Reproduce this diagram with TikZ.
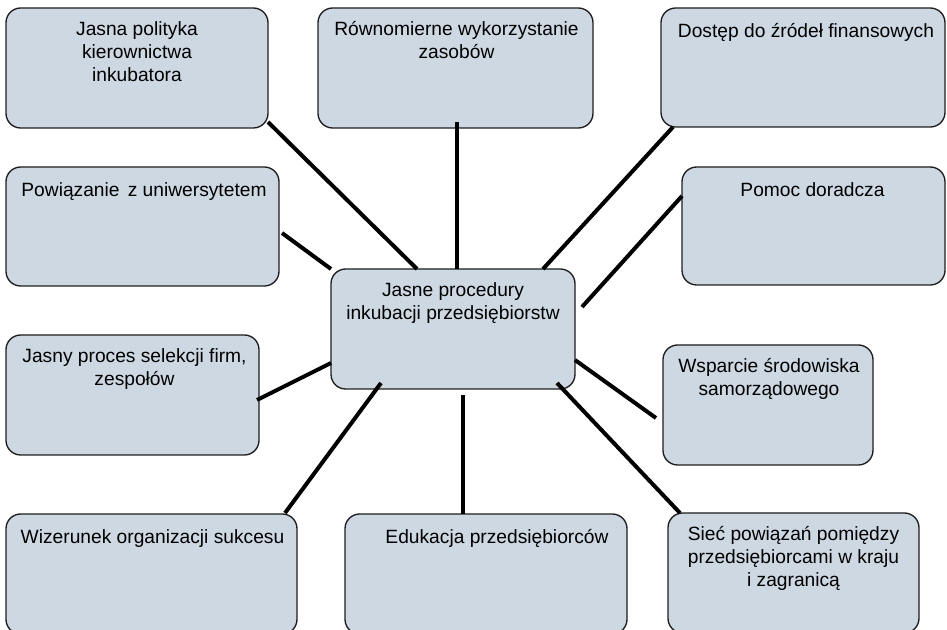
\documentclass[tikz,border=0pt]{standalone}
\usepackage{fontspec}
\setmainfont{Liberation Sans}
\usetikzlibrary{calc}
\definecolor{boxfill}{RGB}{206,216,227}
\definecolor{boxline}{RGB}{30,30,30}
\tikzset{
  box/.style={draw=boxline, line width=1pt, fill=boxfill, rounded corners=11pt,
    inner sep=0pt, outer sep=0pt, minimum height=90pt},
  lbl/.style={anchor=north, inner sep=0pt, align=center,
    font=\fontsize{14.4}{17}\selectfont,
    execute at begin node={\rule{0pt}{12pt}}},
  link/.style={line width=3pt, black}
}
\begin{document}
\begin{tikzpicture}[x=0.75pt,y=-0.75pt]
\useasboundingbox (0,0) rectangle (947,630);
\begin{scope}
\clip (0,0) rectangle (947,630);
% boxes (coordinates in pixels, y pointing down)
\node[box, minimum width=196.5pt]  (A) at (137,68) {};
\node[box, minimum width=206.25pt] (B) at (455.5,68) {};
\node[box, minimum width=213pt, minimum height=89.25pt] (C) at (803,67.5) {};
\node[box, minimum width=204.75pt, minimum height=89.25pt] (D) at (142.5,226.5) {};
\node[box, minimum width=197.25pt, minimum height=88.5pt] (E) at (813.5,226) {};
\node[box, minimum width=183pt]    (F) at (453,329) {};
\node[box, minimum width=189.75pt] (G) at (132.5,395) {};
\node[box, minimum width=157.5pt]  (H) at (768,405) {};
\node[box, minimum width=218.25pt] (I) at (151.5,574) {};
\node[box, minimum width=211.5pt]  (J) at (486,574) {};
\node[box, minimum width=188.25pt] (K) at (793.5,573) {};

% labels
\node[lbl] (At) at ($(A.north)+(0,13.5)$) {Jasna polityka\\kierownictwa\\inkubatora};
\node[lbl] (Bt) at ($(B.north)+(1,13.5)$) {Równomierne wykorzystanie\\zasobów};
\node[lbl] (Ct) at ($(C.north)+(3,13.5)$) {Dostęp do źródeł finansowych};
\node[lbl] (Dt) at ($(D.north)+(1.5,13.5)$) {Powiązanie\hspace{0.15em} z uniwersytetem};
\node[lbl] (Et) at ($(E.north)+(-1,13.5)$) {Pomoc doradcza};
\node[lbl] (Ft) at ($(F.north)+(0,13.5)$) {Jasne procedury\\inkubacji przedsiębiorstw};
\node[lbl] (Gt) at ($(G.north)+(2,13.5)$) {Jasny proces selekcji firm,\\zespołów};
\node[lbl] (Ht) at ($(H.north)+(1,13.5)$) {Wsparcie środowiska\\samorządowego};
\node[lbl] (It) at ($(I.north)+(1,13.5)$) {Wizerunek organizacji sukcesu};
\node[lbl] (Jt) at ($(J.north)+(11,13.5)$) {Edukacja przedsiębiorców};
\node[lbl] (Kt) at ($(K.north)+(0,13.5)$) {Sieć powiązań pomiędzy\\przedsiębiorcami w kraju\\i zagranicą};

% spokes to the central box
\draw[link] ($(A.south east)+(0,-6)$) -- ($(F.north west)+(86,0)$);
\draw[link] ($(B.south)+(1.5,-6)$) -- ($(F.north)+(4,0)$);
\draw[link] ($(C.south west)+(12,0)$) -- ($(F.north east)+(-32,0)$);
\draw[link] ($(D.east)+(3,6.5)$) -- (F.north west);
\draw[link] ($(E.west)+(0,-30)$) -- ($(F.east)+(7,-22)$);
\draw[link] ($(G.east)+(-2,5)$) -- ($(F.west)+(0,34)$);
\draw[link] ($(H.west)+(-7,13)$) -- ($(F.east)+(0,31)$);
\draw[link] ($(I.north east)+(-12,-1)$) -- ($(F.south west)+(50,-6)$);
\draw[link] ($(J.north)+(-23,0)$) -- ($(F.south)+(10,6)$);
\draw[link] ($(K.north west)+(12,0)$) -- ($(F.south east)+(-18,-6)$);
\end{scope}
\end{tikzpicture}
\end{document}
